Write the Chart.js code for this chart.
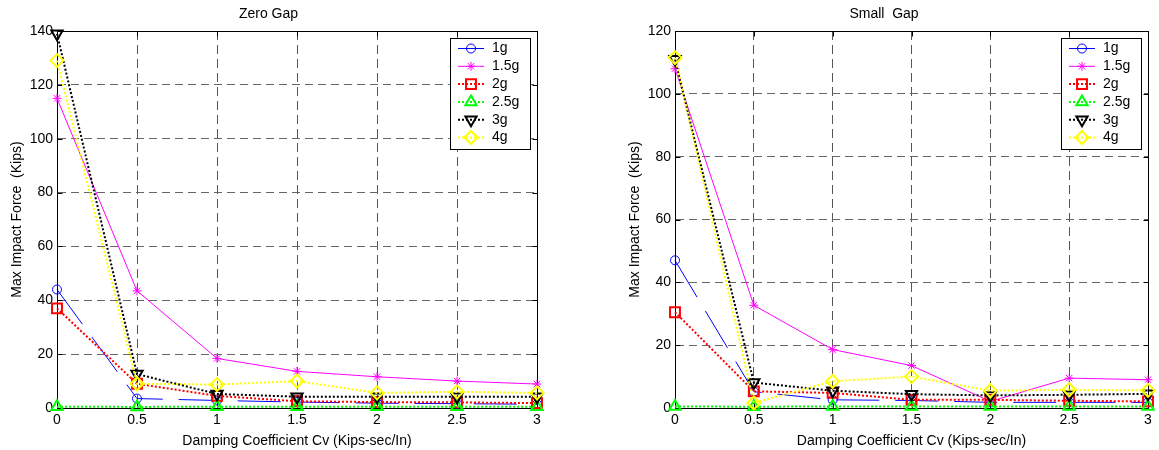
<!DOCTYPE html>
<html>
<head>
<meta charset="utf-8">
<script src="https://cdn.jsdelivr.net/npm/chart.js@4.4.1/dist/chart.umd.min.js"></script>
<style>
  html, body { margin: 0; padding: 0; background: #fff; }
  .panel { position: absolute; top: 0; height: 450px; }
  #left { left: 0; width: 580px; }
  #right { left: 620px; width: 539px; }
</style>
</head>
<body>
<div class="panel" id="left"><canvas id="zeroGapChart"></canvas></div>
<div class="panel" id="right"><canvas id="smallGapChart"></canvas></div>
<script>
// damping coefficient Cv (x values) and tick labels
const damping = [0, 0.5, 1, 1.5, 2, 2.5, 3];
const xTicks = [0, 0.5, 1, 1.5, 2, 2.5, 3];
const xTickLabels = ['0', '0.5', '1', '1.5', '2', '2.5', '3'];
const zeroGapYTicks = [0, 20, 40, 60, 80, 100, 120, 140];
const smallGapYTicks = [0, 20, 40, 60, 80, 100, 120];
const seriesNames = ['1g', '1.5g', '2g', '2.5g', '3g', '4g'];

// Zero Gap, max impact force (kips)
const zeroGap1g  = [44, 3.5, 2.8, 2.2, 1.8, 1.6, 1.4];
const zeroGap15g = [115, 43.5, 18.4, 13.6, 11.6, 10, 8.9];
const zeroGap2g  = [37, 9, 4.5, 2.5, 2.2, 2.1, 1.8];
const zeroGap25g = [0.5, 0.4, 0.5, 0.5, 0.5, 0.5, 0.5];
const zeroGap3g  = [139, 12.6, 5.2, 4.2, 4.2, 4.2, 4.2];
const zeroGap4g  = [129, 9, 8.7, 10, 5.6, 6, 5.6];

// Small Gap, max impact force (kips)
const smallGap1g  = [47, 5.2, 2.6, 2.4, 1.8, 1.8, 1.8];
const smallGap15g = [108, 32.7, 18.6, 13.5, 2.1, 9.5, 9];
const smallGap2g  = [30.5, 5.3, 4.8, 2.6, 2.6, 2.3, 2.1];
const smallGap25g = [0.5, 0.4, 0.5, 0.5, 0.5, 0.5, 0.5];
const smallGap3g  = [111, 8.1, 5.5, 4.4, 4, 4.2, 4.5];
const smallGap4g  = [111.5, 1.6, 8.5, 10, 5.5, 5.8, 5.6];

const seriesStyles = [
    { borderColor: '#0000ff', borderWidth: 1, borderDash: [43, 16], legendDash: [], pointStyle: 'circle', pointRadius: 4.5, pointBorderWidth: 1 },
    { borderColor: '#ff00ff', borderWidth: 1, borderDash: [], legendDash: [], pointStyle: 'star', pointRadius: 4.5, pointBorderWidth: 1 },
    { borderColor: '#ff0000', borderWidth: 2, borderDash: [2, 2], legendDash: [2, 2], pointStyle: 'rect', pointRadius: 7, pointBorderWidth: 2 },
    { borderColor: '#00ff00', borderWidth: 2, borderDash: [2, 2], legendDash: [2, 2], pointStyle: 'triangle', pointRadius: 6.5, pointBorderWidth: 2 },
    { borderColor: '#000000', borderWidth: 2, borderDash: [2, 2], legendDash: [2, 2], pointStyle: 'triangle', pointRotation: 180, pointRadius: 6.5, pointBorderWidth: 2 },
    { borderColor: '#ffff00', borderWidth: 2, borderDash: [2, 2], legendDash: [2, 2], pointStyle: 'rectRot', pointRadius: 6.5, pointBorderWidth: 2 }
];

Chart.defaults.font.family = '"Liberation Sans", Arial, sans-serif';
Chart.defaults.font.size = 14;
Chart.defaults.color = '#000';

function makeDatasets(values) {
    return seriesNames.map((name, i) => ({
        label: name,
        data: damping.map((x, j) => ({ x: x, y: values[i][j] })),
        ...seriesStyles[i],
        pointBorderColor: seriesStyles[i].borderColor,
        pointBackgroundColor: 'rgba(0,0,0,0)',
        fill: false,
        tension: 0,
        clip: false,
        order: seriesNames.length - i
    }));
}

// black box round the plot area, with short inward ticks on all sides
const frame = {
    id: 'frame',
    beforeDatasetsDraw(chart) {
        const { ctx, chartArea: a, scales } = chart;
        const l = Math.round(a.left) + 0.5, t = Math.round(a.top) + 0.5;
        const r = Math.round(a.right) + 0.5, b = Math.round(a.bottom) + 0.5;
        ctx.save();
        ctx.strokeStyle = '#000';
        ctx.lineWidth = 1;
        ctx.setLineDash([]);
        ctx.strokeRect(l, t, r - l, b - t);
        ctx.beginPath();
        scales.y.ticks.forEach(tk => {
            const py = Math.round(scales.y.getPixelForValue(tk.value)) + 0.5;
            ctx.moveTo(l, py); ctx.lineTo(l + 5, py);
            ctx.moveTo(r, py); ctx.lineTo(r - 5, py);
        });
        scales.x.ticks.forEach(tk => {
            const px = Math.round(scales.x.getPixelForValue(tk.value)) + 0.5;
            ctx.moveTo(px, b); ctx.lineTo(px, b - 5);
            ctx.moveTo(px, t); ctx.lineTo(px, t + 5);
        });
        ctx.stroke();
        ctx.restore();
    }
};

// matlab style boxed legend, top right inside the axes
const boxLegend = {
    id: 'boxLegend',
    afterDraw(chart) {
        const { ctx, chartArea: a } = chart;
        const w = 80, h = 111, rowH = 17.8;
        const x = Math.round(a.right - 7.5 - w), y = Math.round(a.top + 7);
        ctx.save();
        ctx.fillStyle = '#fff';
        ctx.fillRect(x, y, w, h);
        ctx.strokeStyle = '#000';
        ctx.lineWidth = 1;
        ctx.strokeRect(x + 0.5, y + 0.5, w, h);
        chart.data.datasets.forEach((ds, i) => {
            const cy = y + 10.5 + i * rowH;
            ctx.strokeStyle = ds.borderColor;
            ctx.lineWidth = ds.borderWidth;
            ctx.setLineDash(ds.legendDash);
            ctx.beginPath();
            ctx.moveTo(x + 8, cy);
            ctx.lineTo(x + 34, cy);
            ctx.stroke();
            ctx.setLineDash([]);
            ctx.lineWidth = ds.pointBorderWidth;
            ctx.fillStyle = 'rgba(0,0,0,0)';
            Chart.helpers.drawPoint(ctx, {
                pointStyle: ds.pointStyle,
                radius: ds.pointRadius,
                rotation: ds.pointRotation || 0,
                borderWidth: ds.pointBorderWidth
            }, x + 21, cy);
            ctx.fillStyle = '#000';
            ctx.font = '14px "Liberation Sans", Arial, sans-serif';
            ctx.textBaseline = 'middle';
            ctx.textAlign = 'left';
            ctx.fillText(ds.label, x + 42, cy);
        });
        ctx.restore();
    }
};

function makeChart(canvasId, title, values, yMax, yTicks, yAxisWidth, yTitlePad, rightPad) {
    const ctx = document.getElementById(canvasId).getContext('2d');
    return new Chart(ctx, {
        type: 'line',
        data: { datasets: makeDatasets(values) },
        options: {
            responsive: true,
            maintainAspectRatio: false,
            animation: false,
            events: [],
            layout: { padding: { left: 0, right: rightPad, top: 0, bottom: 0 } },
            plugins: {
                legend: { display: false },
                tooltip: { enabled: false },
                title: {
                    display: true,
                    text: title,
                    font: { size: 14, weight: 'normal' },
                    padding: { top: 6, bottom: 8.2 }
                }
            },
            scales: {
                x: {
                    type: 'linear',
                    min: 0,
                    max: 3,
                    afterBuildTicks: s => { s.ticks = xTicks.map(v => ({ value: v })); },
                    afterFit: s => { s.height = 42; },
                    grid: { color: '#555', drawTicks: false },
                    border: { display: true, color: '#000', dash: [9, 5] },
                    ticks: {
                        padding: 4,
                        maxRotation: 0,
                        autoSkip: false,
                        callback: (v, i) => xTickLabels[i]
                    },
                    title: {
                        display: true,
                        text: 'Damping Coefficient Cv (Kips-sec/In)',
                        padding: { top: 3.6, bottom: 0 }
                    }
                },
                y: {
                    min: 0,
                    max: yMax,
                    afterBuildTicks: s => { s.ticks = yTicks.map(v => ({ value: v })); },
                    afterFit: s => { s.width = yAxisWidth; },
                    grid: { color: '#666', drawTicks: false },
                    border: { display: true, color: '#000', dash: [8, 5] },
                    ticks: { padding: 4, autoSkip: false, callback: v => String(v) },
                    title: {
                        display: true,
                        text: 'Max Impact Force  (Kips)',
                        padding: { top: yTitlePad, bottom: 0 }
                    }
                }
            }
        },
        plugins: [frame, boxLegend]
    });
}

makeChart('zeroGapChart', 'Zero Gap',
    [zeroGap1g, zeroGap15g, zeroGap2g, zeroGap25g, zeroGap3g, zeroGap4g],
    140, zeroGapYTicks, 57, 8.6, 43);

makeChart('smallGapChart', 'Small  Gap',
    [smallGap1g, smallGap15g, smallGap2g, smallGap25g, smallGap3g, smallGap4g],
    120, smallGapYTicks, 55, 6.6, 11);
</script>
</body>
</html>
